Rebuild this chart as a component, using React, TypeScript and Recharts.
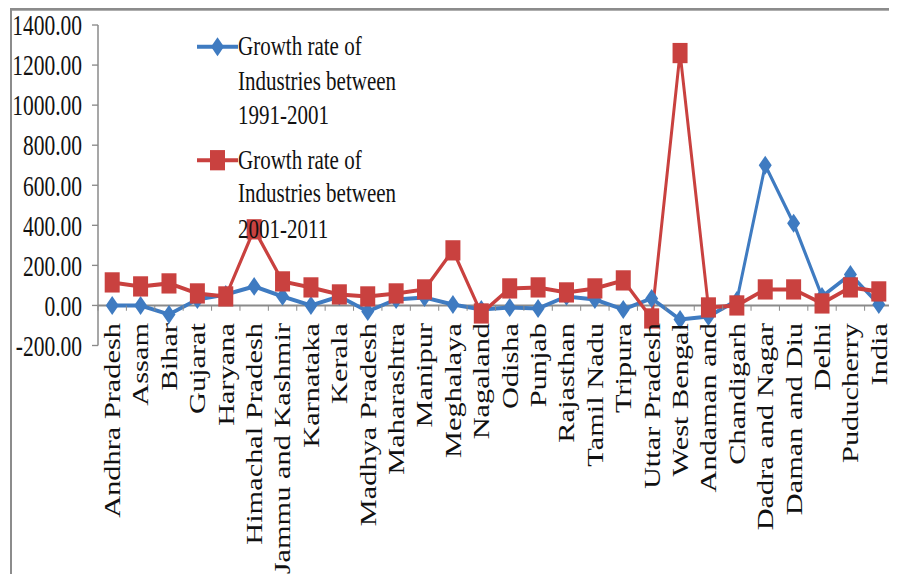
import React from 'react'
import { LineChart, Line, XAxis, YAxis, Legend, ReferenceLine } from 'recharts'

// States / UTs on the category axis
const categories = [
  'Andhra Pradesh', 'Assam', 'Bihar', 'Gujarat', 'Haryana', 'Himachal Pradesh',
  'Jammu and Kashmir', 'Karnataka', 'Kerala', 'Madhya Pradesh', 'Maharashtra',
  'Manipur', 'Meghalaya', 'Nagaland', 'Odisha', 'Punjab', 'Rajasthan', 'Tamil Nadu',
  'Tripura', 'Uttar Pradesh', 'West Bengal', 'Andaman and', 'Chandigarh',
  'Dadra and Nagar', 'Daman and Diu', 'Delhi', 'Puducherry', 'India',
]

// growth rate of industries (%)
const growth1991to2001 = [
  0, 0, -45, 30, 55, 95, 45, 0, 45, -30, 30, 40, 5, -20,
  -10, -15, 45, 30, -20, 35, -70, -55, 25, 700, 410, 45, 155, 5,
]
const growth2001to2011 = [
  115, 95, 110, 60, 45, 380, 120, 90, 55, 45, 60, 80, 275, -40,
  85, 90, 65, 85, 125, -65, 1260, -10, 0, 80, 80, 10, 90, 70,
]

const yTicks = [-200, 0, 200, 400, 600, 800, 1000, 1200, 1400]

const series = [
  { key: 'g1', name: 'Growth rate of Industries between 1991-2001', color: '#3F7BC1', shape: 'diamond' },
  { key: 'g2', name: 'Growth rate of Industries between 2001-2011', color: '#C9413F', shape: 'square' },
]

const data = categories.map((name, i) => ({
  name,
  g1: growth1991to2001[i],
  g2: growth2001to2011[i],
}))

const FONT = '"Liberation Serif", "Times New Roman", serif'
const AXIS = '#8a8a8a'
const STRETCH = 1.35

const CHART_W = 889
const CHART_H = 420
const MARGIN = { top: 12.6, right: 4, left: 0, bottom: 0 }
const Y_AXIS_W = 90
const X_AXIS_H = 170
const Y_MIN = -200
const Y_MAX = 1400

const PLOT_W = CHART_W - MARGIN.left - MARGIN.right - Y_AXIS_W
const PLOT_H = CHART_H - MARGIN.top - MARGIN.bottom - X_AXIS_H
const STEP = PLOT_W / categories.length
const ZERO_Y = MARGIN.top + (PLOT_H * Y_MAX) / (Y_MAX - Y_MIN)

function Marker({ cx, cy, color, shape }: { cx: number; cy: number; color: string; shape: string }) {
  if (shape === 'square') {
    return <rect x={cx - 7.5} y={cy - 7.5} width={15} height={15} fill={color} />
  }
  return (
    <polygon
      points={`${cx},${cy - 7} ${cx + 6.5},${cy} ${cx},${cy + 7} ${cx - 6.5},${cy}`}
      fill={color}
    />
  )
}

// category labels hang off the zero line, with tick marks between categories
function CategoryTick(props: any) {
  const { x, index, payload } = props
  const last = index === categories.length - 1
  return (
    <g>
      <line x1={x - STEP / 2} x2={x - STEP / 2} y1={ZERO_Y} y2={ZERO_Y + 4} stroke={AXIS} />
      {last && <line x1={x + STEP / 2} x2={x + STEP / 2} y1={ZERO_Y} y2={ZERO_Y + 4} stroke={AXIS} />}
      <text
        transform={`translate(${x},${ZERO_Y + 13}) rotate(-90)`}
        textAnchor="end"
        dy="0.35em"
        fontSize={22.5}
        fontFamily={FONT}
        fill="#111"
      >
        {payload.value}
      </text>
    </g>
  )
}

function LegendBox() {
  return (
    <div style={{ fontFamily: FONT, fontSize: 21, color: '#111' }}>
      {series.map((s) => (
        <div key={s.key} style={{ display: 'flex', alignItems: 'flex-start', marginBottom: 7 }}>
          <svg width={41} height={25.5} style={{ flex: 'none' }}>
            <line x1={0} x2={41} y1={12.75} y2={12.75} stroke={s.color} strokeWidth={3} />
            <Marker cx={20.5} cy={12.75} color={s.color} shape={s.shape} />
          </svg>
          <div style={{ width: 168, lineHeight: '25.5px', textAlign: 'left' }}>{s.name}</div>
        </div>
      ))}
    </div>
  )
}

export default function App() {
  return (
    <div style={{ width: 889, height: 566, overflow: 'hidden' }}>
      <div
        style={{
          position: 'relative',
          width: CHART_W,
          height: 425,
          transform: `scaleY(${STRETCH})`,
          transformOrigin: 'top left',
        }}
      >
        <div style={{ position: 'absolute', left: 2, top: 0, width: 2, height: 425, background: '#8c8c8c' }} />
        <div style={{ position: 'absolute', left: 2, top: 0, width: CHART_W - 2, height: 1.5, background: '#8c8c8c' }} />
        <LineChart width={CHART_W} height={CHART_H} data={data} margin={MARGIN}>
          <XAxis
            dataKey="name"
            height={X_AXIS_H}
            axisLine={false}
            tickLine={false}
            interval={0}
            padding={{ left: STEP / 2, right: STEP / 2 }}
            tick={<CategoryTick />}
          />
          <YAxis
            width={Y_AXIS_W}
            domain={[Y_MIN, Y_MAX]}
            ticks={yTicks}
            interval={0}
            allowDataOverflow
            axisLine={{ stroke: AXIS, strokeWidth: 1.5 }}
            tickLine={{ stroke: AXIS }}
            tickSize={6}
            tickMargin={10}
            tick={{ fill: '#111', fontSize: 21.5, fontFamily: FONT }}
            tickFormatter={(v: number) => v.toFixed(2)}
          />
          <ReferenceLine y={0} stroke={AXIS} strokeWidth={1.5} />
          {series.map((s) => (
            <Line
              key={s.key}
              type="linear"
              dataKey={s.key}
              name={s.name}
              stroke={s.color}
              strokeWidth={3}
              isAnimationActive={false}
              dot={(p: any) => <Marker key={`${s.key}-${p.index}`} cx={p.cx} cy={p.cy} color={s.color} shape={s.shape} />}
              activeDot={false}
            />
          ))}
          <Legend
            layout="vertical"
            align="center"
            verticalAlign="middle"
            wrapperStyle={{ left: 189, top: 16, width: 'auto' }}
            content={<LegendBox />}
          />
        </LineChart>
      </div>
    </div>
  )
}
